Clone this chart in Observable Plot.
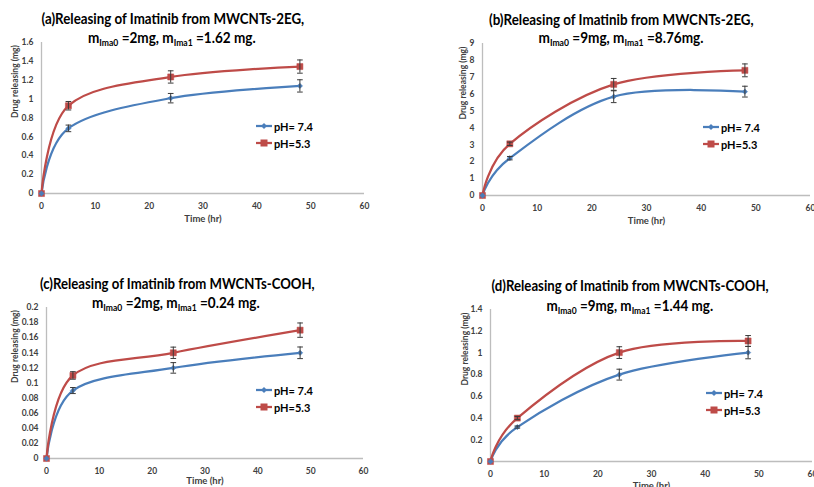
<!DOCTYPE html>
<html>
<head>
<meta charset="utf-8">
<script src="https://cdn.jsdelivr.net/npm/d3@7"></script>
<script src="https://cdn.jsdelivr.net/npm/@observablehq/plot@0.6"></script>
<style>
  body { margin: 0; background: #fff; }
  #root { position: relative; width: 814px; height: 487px; overflow: hidden; font-family: Lato, "Open Sans", sans-serif; }
  .panel { position: absolute; }
  .panel svg { overflow: visible; }
  .title { position: absolute; white-space: nowrap; font-weight: bold; font-size: 15px; color: #000; line-height: 1; transform-origin: 50% 50%; }
  .title sub { font-size: 9.5px; vertical-align: -3px; line-height: 0; }
  .legend { position: absolute; font-weight: bold; font-size: 11px; color: #000; }
  .legend .row { position: absolute; left: 0; white-space: nowrap; display: flex; align-items: center; transform: translateY(-50%); }
  .legend svg { display: block; margin-right: 2px; }
</style>
</head>
<body>
<div id="root"></div>
<script>
// ---------- data ----------
const time = [0, 5, 24, 48];
const seriesNames = ["pH= 7.4", "pH=5.3"];
const seriesColors = ["#4A7EBB", "#BE4B48"];
const xTicks = [0, 10, 20, 30, 40, 50, 60];
const xLabel = "Time (hr)";
const yLabel = "Drug releasing (mg)";

// (a) MWCNTs-2EG, m0 = 2 mg
const aTitle = ["(a)Releasing of Imatinib from MWCNTs-2EG,", ["2mg", "1.62 mg."]];
const aPh74 = [0, 0.69, 1.01, 1.14];
const aPh74Err = [0, 0.035, 0.05, 0.065];
const aPh53 = [0, 0.93, 1.235, 1.345];
const aPh53Err = [0, 0.045, 0.065, 0.07];
const aYTicks = [0, 0.2, 0.4, 0.6, 0.8, 1, 1.2, 1.4, 1.6];
const aYLabels = ["0", "0.2", "0.4", "0.6", "0.8", "1", "1.2", "1.4", "1.6"];

// (b) MWCNTs-2EG, m0 = 9 mg
const bTitle = ["(b)Releasing of Imatinib from MWCNTs-2EG,", ["9mg", "8.76mg."]];
const bPh74 = [0, 2.21, 5.85, 6.15];
const bPh74Err = [0, 0.1, 0.35, 0.32];
const bPh53 = [0, 3.06, 6.58, 7.41];
const bPh53Err = [0, 0.1, 0.35, 0.38];
const bYTicks = [0, 1, 2, 3, 4, 5, 6, 7, 8, 9];
const bYLabels = ["0", "1", "2", "3", "4", "5", "6", "7", "8", "9"];

// (c) MWCNTs-COOH, m0 = 2 mg
const cTitle = ["(c)Releasing of Imatinib from MWCNTs-COOH,", ["2mg", "0.24 mg."]];
const cPh74 = [0, 0.09, 0.12, 0.14];
const cPh74Err = [0, 0.004, 0.007, 0.0077];
const cPh53 = [0, 0.11, 0.14, 0.17];
const cPh53Err = [0, 0.005, 0.0075, 0.0095];
const cYTicks = [0, 0.02, 0.04, 0.06, 0.08, 0.1, 0.12, 0.14, 0.16, 0.18, 0.2];
const cYLabels = ["0", "0.02", "0.04", "0.06", "0.08", "0.1", "0.12", "0.14", "0.16", "0.18", "0.2"];

// (d) MWCNTs-COOH, m0 = 9 mg
const dTitle = ["(d)Releasing of Imatinib from MWCNTs-COOH,", ["9mg", "1.44 mg."]];
const dPh74 = [0, 0.317, 0.80, 1.003];
const dPh74Err = [0, 0.01, 0.05, 0.057];
const dPh53 = [0, 0.40, 1.003, 1.11];
const dPh53Err = [0, 0.015, 0.054, 0.05];
const dYTicks = [0, 0.2, 0.4, 0.6, 0.8, 1, 1.2, 1.4];
const dYLabels = ["0", "0.2", "0.4", "0.6", "0.8", "1", "1.2", "1.4"];

// ---------- layout (pixels) ----------
const panels = [
  { title: aTitle, s: [[aPh74, aPh74Err], [aPh53, aPh53Err]], yTicks: aYTicks, yLabels: aYLabels,
    left: 0, top: 0, w: 400, h: 230, ml: 41, mr: 36, mt: 42, mb: 37, yLabDx: -26, xLabDy: 25,
    t1: [173, 18, 263], t2: [172, 37, 168], leg: [256, 126, 143] },
  { title: bTitle, s: [[bPh74, bPh74Err], [bPh53, bPh53Err]], yTicks: bYTicks, yLabels: bYLabels,
    left: 410, top: 0, w: 404, h: 230, ml: 72, mr: 4, mt: 43, mb: 35, yLabDx: -19, xLabDy: 25,
    t1: [621, 19, 265], t2: [621, 37, 165], leg: [703, 127, 144] },
  { title: cTitle, s: [[cPh74, cPh74Err], [cPh53, cPh53Err]], yTicks: cYTicks, yLabels: cYLabels,
    left: 0, top: 240, w: 400, h: 247, ml: 46, mr: 37, mt: 67, mb: 29, yLabDx: -31, xLabDy: 22.5,
    t1: [177, 283, 275], t2: [176, 302, 168], leg: [256, 390, 407] },
  { title: dTitle, s: [[dPh74, dPh74Err], [dPh53, dPh53Err]], yTicks: dYTicks, yLabels: dYLabels,
    left: 410, top: 240, w: 404, h: 247, ml: 80, mr: 2, mt: 69, mb: 26, yLabDx: -25, xLabDy: 24,
    t1: [630, 285, 277], t2: [630, 305, 167], leg: [706, 393, 410] }
];

// custom symbols
const squareSym = { draw(ctx, size) { const h = Math.sqrt(size) / 2; ctx.rect(-h, -h, 2 * h, 2 * h); } };
const diamondSym = { draw(ctx, size) { const h = Math.sqrt(size) / 2; ctx.moveTo(0, -h); ctx.lineTo(h, 0); ctx.lineTo(0, h); ctx.lineTo(-h, 0); ctx.closePath(); } };
const capSym = { draw(ctx, size) { const h = Math.sqrt(size) / 2; ctx.moveTo(-h, 0); ctx.lineTo(h, 0); } };
const symbols = [diamondSym, squareSym];
const symR = [3.0, 3.9];

const root = document.getElementById("root");

function placeTitle(el, spec) {
  root.appendChild(el);
  const w = el.offsetWidth, h = el.offsetHeight;
  const s = spec[2] / w;
  el.style.left = (spec[0] - w / 2) + "px";
  el.style.top = (spec[1] - h / 2) + "px";
  el.style.transform = `scaleX(${s})`;
}

for (const p of panels) {
  const rows = [];
  p.s.forEach(([vals, errs], k) => {
    time.forEach((t, i) => rows.push({ series: seriesNames[k], k, t, v: vals[i], err: errs[i] }));
  });
  const errRows = rows.filter(d => d.err > 0 && d.t > 0);
  const yMax = p.yTicks[p.yTicks.length - 1];

  const chart = Plot.plot({
    width: p.w, height: p.h,
    marginLeft: p.ml, marginRight: p.mr, marginTop: p.mt, marginBottom: p.mb,
    x: { domain: [0, 60] },
    y: { domain: [0, yMax] },
    color: { domain: seriesNames, range: seriesColors },
    style: { fontFamily: "Lato, 'Open Sans', sans-serif", fontWeight: "bold", background: "transparent", overflow: "visible" },
    marks: [
      Plot.ruleY([0], { stroke: "#bdbdbd", strokeWidth: 1.3 }),
      Plot.ruleX([0], { stroke: "#bdbdbd", strokeWidth: 1.3 }),
      Plot.axisX({ ticks: xTicks, tickSize: 0, tickPadding: 9, fontSize: 8.5, fill: "#404040", label: null }),
      Plot.axisY({ ticks: p.yTicks, tickFormat: d => p.yLabels[p.yTicks.indexOf(d)], tickSize: 0, tickPadding: 8, fontSize: 8.5, fill: "#404040", label: null }),
      Plot.text([xLabel], { frameAnchor: "bottom", dy: p.xLabDy, lineAnchor: "middle", fontSize: 9.5, fill: "#404040" }),
      Plot.text([yLabel], { frameAnchor: "left", rotate: -90, dx: p.yLabDx, fontSize: 8.5, fill: "#404040" }),
      Plot.line(rows, { x: "t", y: "v", z: "series", stroke: "series", curve: "cardinal", strokeWidth: 2.25 }),
      Plot.dot(rows, { x: "t", y: "v", fill: "series", stroke: "series", strokeWidth: 0.5, symbol: d => symbols[d.k], r: d => symR[d.k] }),
      Plot.ruleX(errRows, { x: "t", y1: d => d.v - d.err, y2: d => d.v + d.err, stroke: "#3a3a3a", strokeWidth: 1 }),
      Plot.dot(errRows, { x: "t", y: d => d.v - d.err, symbol: capSym, r: 3.2, stroke: "#3a3a3a", fill: "none", strokeWidth: 1 }),
      Plot.dot(errRows, { x: "t", y: d => d.v + d.err, symbol: capSym, r: 3.2, stroke: "#3a3a3a", fill: "none", strokeWidth: 1 })
    ]
  });
  chart.classList.add("panel");
  chart.style.left = p.left + "px";
  chart.style.top = p.top + "px";
  root.appendChild(chart);

  // titles
  const t1 = document.createElement("div");
  t1.className = "title";
  t1.textContent = p.title[0];
  placeTitle(t1, p.t1);
  const t2 = document.createElement("div");
  t2.className = "title";
  t2.innerHTML = `m<sub>Ima0</sub> =${p.title[1][0]}, m<sub>Ima1</sub> =${p.title[1][1]}`;
  placeTitle(t2, p.t2);

  // legend
  const leg = document.createElement("div");
  leg.className = "legend";
  leg.style.left = p.leg[0] + "px"; leg.style.top = "0px";
  seriesNames.forEach((name, k) => {
    const row = document.createElement("div");
    row.className = "row";
    row.style.top = p.leg[1 + k] + "px";
    const mk = k === 0
      ? `<path d="M8,4 L11,7 L8,10 L5,7 Z" fill="${seriesColors[k]}"/>`
      : `<rect x="4.5" y="3.5" width="7" height="7" fill="${seriesColors[k]}"/>`;
    row.innerHTML = `<svg width="16" height="14"><line x1="0" y1="7" x2="16" y2="7" stroke="${seriesColors[k]}" stroke-width="2.25"/>${mk}</svg><span>${name}</span>`;
    leg.appendChild(row);
  });
  root.appendChild(leg);
}
</script>
</body>
</html>
